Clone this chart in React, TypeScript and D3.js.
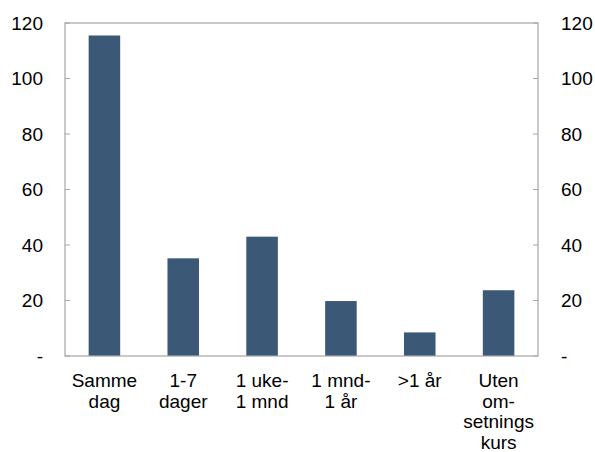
import React from "react";
import * as d3 from "d3";

const categories: string[][] = [
  ["Samme", "dag"],
  ["1-7", "dager"],
  ["1 uke-", "1 mnd"],
  ["1 mnd-", "1 år"],
  [">1 år"],
  ["Uten", "om-", "setnings", "kurs"],
];
const values: number[] = [115.5, 35.2, 43, 19.8, 8.5, 23.7];
const yTicks: number[] = [0, 20, 40, 60, 80, 100, 120];
const tickLabel = (v: number) => (v === 0 ? "-" : String(v));

const W = 595;
const H = 452;
const M = { left: 65, right: 538, top: 23, bottom: 356 };
const FONT = "'Liberation Sans', Arial, sans-serif";
const BAR = "#3b5876";
const AXIS = "#a6a6a6";

export default function App() {
  const x = d3
    .scaleBand<number>()
    .domain(values.map((_, i) => i))
    .range([M.left, M.right])
    .paddingInner(0.6)
    .paddingOuter(0.3);
  const y = d3.scaleLinear().domain([0, 120]).range([M.bottom, M.top]);
  return (
    <svg
      width={W}
      height={H}
      style={{ position: "absolute", left: 0, top: 0, background: "#fff" }}
      fontFamily={FONT}
    >
      {values.map((v, i) => (
        <rect
          key={i}
          x={x(i)}
          y={y(v)}
          width={x.bandwidth()}
          height={y(0) - y(v)}
          fill={BAR}
        />
      ))}
      <rect
        x={M.left}
        y={M.top}
        width={M.right - M.left}
        height={M.bottom - M.top}
        fill="none"
        stroke={AXIS}
        strokeWidth={1.2}
      />
      {yTicks.map((t) => (
        <g key={t}>
          <line x1={M.left} x2={M.left + 5} y1={y(t)} y2={y(t)} stroke={AXIS} />
          <line x1={M.right - 5} x2={M.right} y1={y(t)} y2={y(t)} stroke={AXIS} />
          <text
            x={43}
            y={y(t)}
            dy="0.35em"
            textAnchor="end"
            fontSize={19}
            fill="#000"
          >
            {tickLabel(t)}
          </text>
          <text
            x={561}
            y={y(t)}
            dy="0.35em"
            textAnchor="start"
            fontSize={19}
            fill="#000"
          >
            {tickLabel(t)}
          </text>
        </g>
      ))}
      {categories.map((lines, i) => (
        <text
          key={i}
          x={(x(i) as number) + x.bandwidth() / 2}
          y={387}
          textAnchor="middle"
          fontSize={19}
          fill="#000"
        >
          {lines.map((l, j) => (
            <tspan key={j} x={(x(i) as number) + x.bandwidth() / 2} dy={j === 0 ? 0 : 20.6}>
              {l}
            </tspan>
          ))}
        </text>
      ))}
    </svg>
  );
}
